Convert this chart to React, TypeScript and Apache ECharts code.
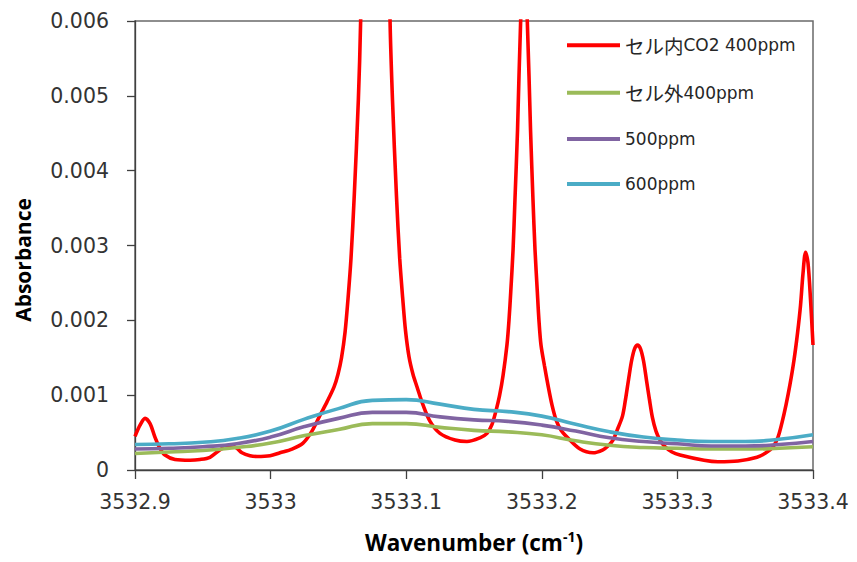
import React, { useEffect, useRef } from "react";
import * as echarts from "echarts";

// ---- data ----
const seriesNames = ["セル内CO2 400ppm", "セル外400ppm", "500ppm", "600ppm"];
const seriesColors = ["#FF0000", "#9BBB59", "#8064A2", "#4BACC6"];

// red line (inside cell), wavenumber / absorbance
const redWavenumbers = [
  3532.9, 3532.9037, 3532.9074, 3532.9111, 3532.9147, 3532.9184, 3532.9221, 3532.9295,
  3532.9406, 3532.9479, 3532.9553, 3532.9627, 3532.9671, 3532.9715, 3532.9752, 3532.9789,
  3532.9848, 3532.99, 3532.9996, 3533.0069, 3533.0158, 3533.0239, 3533.0305, 3533.0364,
  3533.0416, 3533.0468, 3533.0497, 3533.0523, 3533.0549, 3533.0571, 3533.0593, 3533.0617,
  3533.0647, 3533.0664, 3533.0772, 3533.0881, 3533.0899, 3533.0928, 3533.0952, 3533.0974,
  3533.0995, 3533.1021, 3533.105, 3533.108, 3533.1124, 3533.1176, 3533.1249, 3533.136,
  3533.1448, 3533.1544, 3533.1596, 3533.1633, 3533.1662, 3533.1688, 3533.1714, 3533.1743,
  3533.1758, 3533.1771, 3533.1788, 3533.1802, 3533.1821, 3533.1844, 3533.1869, 3533.1893,
  3533.1917, 3533.1935, 3533.195, 3533.1967, 3533.1979, 3533.1994, 3533.202, 3533.2049,
  3533.2075, 3533.2105, 3533.2142, 3533.2186, 3533.2282, 3533.2378, 3533.2451, 3533.2488,
  3533.2525, 3533.2555, 3533.2595, 3533.2617, 3533.2639, 3533.2662, 3533.2684, 3533.2706,
  3533.2728, 3533.275, 3533.2772, 3533.2794, 3533.2816, 3533.2842, 3533.2872, 3533.2909,
  3533.296, 3533.3019, 3533.3196, 3533.3299, 3533.3447, 3533.3587, 3533.3653, 3533.3705,
  3533.3742, 3533.3771, 3533.3801, 3533.383, 3533.386, 3533.3886, 3533.3908, 3533.3926,
  3533.3945, 3533.3963, 3533.3982, 3533.4,
];
const redAbsorbance = [
  0.00045, 0.0006, 0.00069, 0.00062, 0.00044, 0.00029, 0.0002, 0.00014,
  0.00013, 0.00014, 0.00017, 0.00027, 0.00031, 0.00032, 0.00029, 0.00023,
  0.00019, 0.00018, 0.00019, 0.00023, 0.00028, 0.00036, 0.00052, 0.00073,
  0.00091, 0.00111, 0.00128, 0.0015, 0.00184, 0.00229, 0.00283, 0.00367,
  0.00494, 0.006, 0.017, 0.006, 0.00494, 0.00367, 0.00283, 0.0023,
  0.00186, 0.00151, 0.00128, 0.00111, 0.00087, 0.00065, 0.00049, 0.0004,
  0.00038, 0.00043, 0.00049, 0.00061, 0.00079, 0.00099, 0.00126, 0.00167,
  0.002, 0.00238, 0.00294, 0.00361, 0.00454, 0.006, 0.0068, 0.006,
  0.00454, 0.00361, 0.00294, 0.00238, 0.002, 0.00167, 0.00139, 0.0011,
  0.00087, 0.00067, 0.00053, 0.00044, 0.00028, 0.00023, 0.00027, 0.00032,
  0.0004, 0.00053, 0.00072, 0.00094, 0.0012, 0.00146, 0.00162, 0.00167,
  0.00162, 0.00146, 0.0012, 0.00094, 0.0007, 0.00052, 0.0004, 0.00031,
  0.00024, 0.0002, 0.00013, 0.00011, 0.00012, 0.00017, 0.00023, 0.00031,
  0.00044, 0.00063, 0.00087, 0.00114, 0.00147, 0.00183, 0.0022, 0.00262,
  0.00291, 0.00277, 0.00227, 0.00167,
];

// smooth lines share the same wavenumbers
const smoothWavenumbers = [
  3532.9, 3532.925, 3532.95, 3532.975, 3533.0, 3533.025, 3533.05, 3533.075, 3533.1,
  3533.125, 3533.15, 3533.175, 3533.2, 3533.225, 3533.25, 3533.275, 3533.3, 3533.325,
  3533.35, 3533.375, 3533.4,
];
const green400 = [
  0.00022, 0.00024, 0.00026, 0.0003, 0.00036, 0.00046, 0.00054, 0.00062, 0.00062,
  0.00057, 0.00053, 0.00051, 0.00047, 0.00039, 0.00033, 0.0003, 0.00029, 0.00028,
  0.00028, 0.00029, 0.00031,
];
const purple500 = [
  0.00028, 0.00029, 0.00031, 0.00035, 0.00044, 0.00058, 0.00069, 0.00077, 0.00077,
  0.00071, 0.00067, 0.00065, 0.0006, 0.00052, 0.00043, 0.00038, 0.00035, 0.00032,
  0.00032, 0.00034, 0.00038,
];
const cyan600 = [
  0.00034, 0.00035, 0.00037, 0.00042, 0.00052, 0.00068, 0.00082, 0.00093, 0.00094,
  0.00088, 0.00081, 0.00078, 0.00072, 0.00061, 0.00051, 0.00044, 0.0004, 0.00038,
  0.00038, 0.00041, 0.00047,
];

const xMin = 3532.9;
const xMax = 3533.4;
const xInterval = 0.1;
const yMin = 0;
const yMax = 0.006;
const yInterval = 0.001;

const zip = (xs: number[], ys: number[]) => xs.map((x, i) => [x, ys[i]]);

const TICK_FONT = "'DejaVu Sans', 'Noto Sans CJK JP', sans-serif";
const CJK_FONT = "'Noto Sans CJK JP', sans-serif";
const TITLE_FONT = "'Open Sans', 'DejaVu Sans', sans-serif";

export default function App() {
  const ref = useRef<HTMLDivElement>(null);

  useEffect(() => {
    if (!ref.current) return;
    const chart = echarts.init(ref.current, undefined, { renderer: "svg" });

    const lineSeries = (name: string, color: string, data: number[][], smooth: number, z: number) => ({
      type: "line",
      name,
      data,
      smooth,
      symbol: "none",
      showSymbol: false,
      clip: true,
      z,
      lineStyle: { color, width: 3.6 },
      itemStyle: { color },
    });

    chart.setOption({
      animation: false,
      backgroundColor: "#ffffff",
      grid: {
        left: 135,
        top: 21,
        right: 44,
        bottom: 92,
        show: true,
        borderColor: "#6a6a6a",
        borderWidth: 1.5,
        backgroundColor: "transparent",
      },
      legend: {
        orient: "vertical",
        left: 567,
        top: 35.5,
        padding: 0,
        itemWidth: 53,
        itemHeight: 4,
        itemGap: 28,
        icon: "rect",
        formatter: (name: string) =>
          name
            .replace(/([\u3040-\u30ff\u4e00-\u9fff]+)/g, "{j|$1}")
            .replace(/^(.*\})?([^}]+)$/, (m: string, a: string, b: string) => (a || "") + "{t|" + b + "}"),
        textStyle: {
          fontFamily: TICK_FONT,
          fontSize: 17,
          color: "#262626",
          rich: {
            j: { fontFamily: CJK_FONT, fontSize: 19.5, color: "#262626", lineHeight: 20 },
            t: { fontFamily: TICK_FONT, fontSize: 17, color: "#262626", lineHeight: 20 },
          },
        },
        data: seriesNames,
      },
      xAxis: {
        type: "value",
        min: xMin,
        max: xMax,
        interval: xInterval,
        name: "{a|Wavenumber (cm}{s|-1}{a|)}",
        nameLocation: "middle",
        nameGap: 59,
        nameTextStyle: {
          rich: {
            a: { fontFamily: TITLE_FONT, fontSize: 22.5, fontWeight: "bold", color: "#000", lineHeight: 27 },
            s: { fontFamily: TITLE_FONT, fontSize: 14, fontWeight: "bold", color: "#000", verticalAlign: "top", lineHeight: 14 },
          },
        },
        axisLine: { show: true, onZero: false, lineStyle: { color: "#404040", width: 1.3 } },
        axisTick: { show: true, inside: false, length: 9, lineStyle: { color: "#404040", width: 1.3 } },
        axisLabel: {
          margin: 22,
          fontFamily: TICK_FONT,
          fontSize: 20.5,
          color: "#333",
          showMinLabel: true,
          showMaxLabel: true,
          hideOverlap: false,
          formatter: (v: number) => String(Number(v.toFixed(1))),
        },
        splitLine: { show: false },
      },
      yAxis: {
        type: "value",
        min: yMin,
        max: yMax,
        interval: yInterval,
        axisLine: { show: true, lineStyle: { color: "#404040", width: 1.3 } },
        axisTick: { show: true, inside: false, length: 8, lineStyle: { color: "#404040", width: 1.3 } },
        axisLabel: {
          margin: 26,
          fontFamily: TICK_FONT,
          fontSize: 20.5,
          color: "#333",
          formatter: (v: number) => (v === 0 ? "0" : v.toFixed(3)),
        },
        splitLine: { show: false },
      },
      graphic: [
        {
          type: "text",
          x: 23,
          y: 260,
          rotation: Math.PI / 2,
          style: {
            text: "Absorbance",
            fontFamily: TITLE_FONT,
            fontSize: 21,
            fontWeight: "bold",
            fill: "#000",
            align: "center",
            verticalAlign: "middle",
          },
        },
      ],
      series: [
        lineSeries(seriesNames[0], seriesColors[0], zip(redWavenumbers, redAbsorbance), 0.3, 2),
        lineSeries(seriesNames[1], seriesColors[1], zip(smoothWavenumbers, green400), 0.5, 3),
        lineSeries(seriesNames[2], seriesColors[2], zip(smoothWavenumbers, purple500), 0.5, 4),
        lineSeries(seriesNames[3], seriesColors[3], zip(smoothWavenumbers, cyan600), 0.5, 5),
      ],
    });

    return () => chart.dispose();
  }, []);

  return (
    <div
      ref={ref}
      style={{ position: "absolute", left: 0, top: 0, width: 857, height: 562, background: "#fff" }}
    />
  );
}
